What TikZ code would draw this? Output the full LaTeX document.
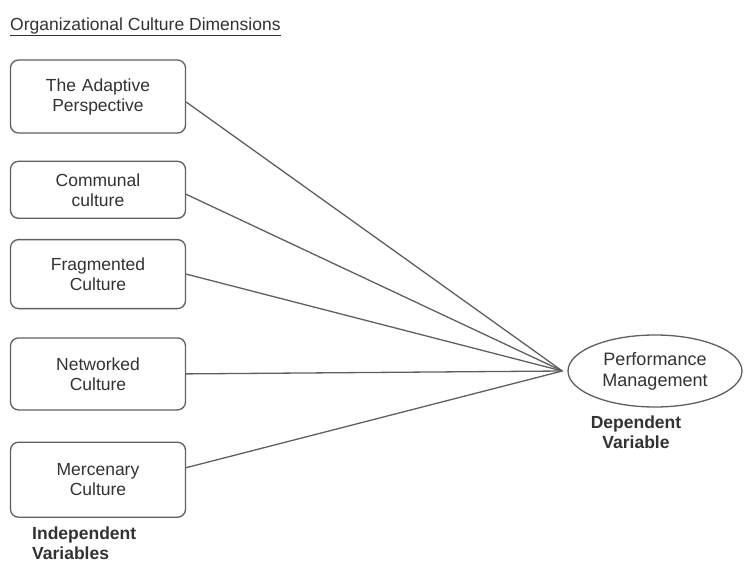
\documentclass[tikz,border=0pt]{standalone}
\usepackage{fontspec}
\setmainfont{Liberation Sans}
\usetikzlibrary{shapes.geometric, positioning}
\definecolor{inkGray}{RGB}{50, 50, 50}
\definecolor{edgeGray}{RGB}{95, 95, 95}
\tikzset{
    % Independent variable boxes
    dimBox/.style={
        rectangle,
        rounded corners=8pt,
        minimum width=175pt,
        text width=165pt,
        align=center,
        draw=edgeGray,
        line width=1.3pt,
        text=inkGray,
        font=\fontsize{17.5}{20}\selectfont
    },
    % Dependent variable ellipse
    outcome/.style={
        ellipse,
        minimum width=174pt,
        minimum height=72pt,
        inner sep=0pt,
        align=center,
        draw=edgeGray,
        line width=1.3pt,
        text=inkGray,
        font=\fontsize{18}{21}\selectfont
    },
    % Labels & links
    roleLabel/.style={font=\fontsize{17.5}{20}\selectfont\bfseries, text=inkGray, align=left, inner sep=0pt},
    link/.style={draw=edgeGray, line width=1.3pt}
}

\begin{document}
\begin{tikzpicture}[x=1pt, y=-1pt]
    \useasboundingbox (0,0) rectangle (744,564);

    % --- Title ---
    \node (title) [anchor=west, text=inkGray, inner sep=0pt, font=\fontsize{17.5}{20}\selectfont] at (10,27)
        {\underline{Organizational Culture Dimensions}};

    % --- LEFT COLUMN (Independent Variables) ---
    \node (adaptive) [dimBox, minimum height=73pt] at (98,96.5) {The Adaptive\\Perspective};
    \node (communal) [dimBox, minimum height=57pt, below=27pt of adaptive] {Communal\\culture};
    \node (fragmented) [dimBox, minimum height=69pt, below=20pt of communal] {Fragmented\\Culture};
    \node (networked) [dimBox, minimum height=72pt, below=28pt of fragmented] {Networked\\Culture};
    \node (mercenary) [dimBox, minimum height=75pt, below=31pt of networked] {Mercenary\\Culture};

    \node (indep) [roleLabel, anchor=north west] at (32,527) {Independent\\Variables};

    % --- RIGHT SIDE (Dependent Variable) ---
    \node (perf) [outcome] at (655,371) {Performance\\Management};
    \node (dep) [roleLabel, align=center, anchor=north] at (636,416) {Dependent\\Variable};

    % --- Links (all meet just left of the ellipse) ---
    \coordinate (hub) at ([xshift=-5pt]perf.west);
    \draw [link] ([yshift=-5.5pt]adaptive.east) -- (hub);
    \draw [link] ([yshift=-4.5pt]communal.east) -- (hub);
    \draw [link] (fragmented.east) -- (hub);
    \draw [link] (networked.east) -- (hub);
    \draw [link] ([yshift=12pt]mercenary.east) -- (hub);

\end{tikzpicture}
\end{document}
